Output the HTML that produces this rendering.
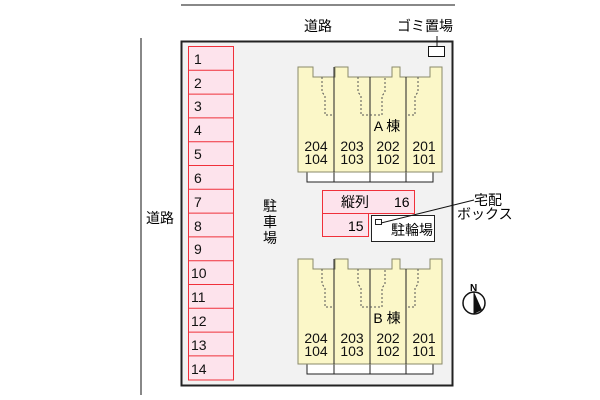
<!DOCTYPE html>
<html><head><meta charset="utf-8"><style>
html,body{margin:0;padding:0;background:#fff;}
svg{display:block;font-family:"Liberation Sans","Noto Sans CJK JP",sans-serif;}
</style></head><body>
<svg width="600" height="400" viewBox="0 0 600 400" xmlns="http://www.w3.org/2000/svg">
<defs>
<g id="bld">
  <rect x="307" y="172" width="126" height="10" fill="#fff" stroke="#222" stroke-width="1"/>
  <line x1="334" y1="172" x2="334" y2="182" stroke="#222"/>
  <line x1="370" y1="172" x2="370" y2="182" stroke="#222"/>
  <line x1="406" y1="172" x2="406" y2="182" stroke="#222"/>
  <polygon points="298,67 313,67 313,77 335,77 335,67 348,67 348,77 392,77 392,67 400,67 400,77 430,77 430,67 442,67 442,172 298,172" fill="#fbf7c8" stroke="#8a8a6a" stroke-width="1"/>
  <line x1="334" y1="67" x2="334" y2="172" stroke="#222"/>
  <line x1="370" y1="77" x2="370" y2="172" stroke="#222"/>
  <line x1="406" y1="77" x2="406" y2="172" stroke="#222"/>
  <g stroke="#555" stroke-dasharray="2,2" fill="none">
    <polyline points="322,77 322,92 325,96 325,115 334,115"/>
    <polyline points="358,77 358,92 361,96 361,115 370,115 382,115 382,96 385,92 385,77"/>
    <polyline points="418,77 418,92 415,96 415,115 406,115"/>
  </g>
  <g font-size="14" fill="#111" text-anchor="middle">
    <text x="316" y="151">204</text><text x="316" y="164">104</text>
    <text x="352" y="151">203</text><text x="352" y="164">103</text>
    <text x="388" y="151">202</text><text x="388" y="164">102</text>
    <text x="424" y="151">201</text><text x="424" y="164">101</text>
  </g>
</g>
</defs>
<line x1="181" y1="5" x2="455" y2="5" stroke="#111"/>
<line x1="141" y1="38" x2="141" y2="395" stroke="#111"/>
<text x="318" y="31" font-size="14" text-anchor="middle">道路</text>
<text x="160" y="223" font-size="14" text-anchor="middle">道路</text>
<rect x="181.5" y="41.5" width="271" height="344" fill="#f2f2f2" stroke="#222" stroke-width="2"/>
<g fill="#fde3ec" stroke="#f0303a" stroke-width="1">
  <rect x="188.5" y="46.5" width="45" height="333.5"/>
</g>
<g stroke="#f0303a">
  <line x1="188" y1="70.3" x2="234" y2="70.3"/><line x1="188" y1="94.1" x2="234" y2="94.1"/>
  <line x1="188" y1="117.9" x2="234" y2="117.9"/><line x1="188" y1="141.7" x2="234" y2="141.7"/>
  <line x1="188" y1="165.5" x2="234" y2="165.5"/><line x1="188" y1="189.3" x2="234" y2="189.3"/>
  <line x1="188" y1="213.1" x2="234" y2="213.1"/><line x1="188" y1="236.9" x2="234" y2="236.9"/>
  <line x1="188" y1="260.7" x2="234" y2="260.7"/><line x1="188" y1="284.5" x2="234" y2="284.5"/>
  <line x1="188" y1="308.3" x2="234" y2="308.3"/><line x1="188" y1="332.1" x2="234" y2="332.1"/>
  <line x1="188" y1="355.9" x2="234" y2="355.9"/>
</g>
<g font-size="14" fill="#111">
  <text x="194" y="64">1</text><text x="194" y="88">2</text><text x="194" y="111">3</text>
  <text x="194" y="135">4</text><text x="194" y="159">5</text><text x="194" y="183">6</text>
  <text x="194" y="207">7</text><text x="194" y="231">8</text><text x="194" y="254">9</text>
  <text x="191" y="278">10</text><text x="191" y="302">11</text><text x="191" y="326">12</text>
  <text x="191" y="350">13</text><text x="191" y="374">14</text>
</g>
<g font-size="14" text-anchor="middle"><text x="270" y="211">駐</text><text x="270" y="227">車</text><text x="270" y="243">場</text></g>
<text x="425" y="31" font-size="14" text-anchor="middle">ゴミ置場</text>
<line x1="437" y1="36" x2="437" y2="46" stroke="#111"/>
<rect x="428.5" y="46.5" width="16" height="10" fill="#fff" stroke="#111"/>
<use href="#bld"/>
<text x="387" y="131" font-size="14" text-anchor="middle">A 棟</text>
<use href="#bld" transform="translate(0,192)"/>
<text x="387" y="323" font-size="14" text-anchor="middle">B 棟</text>
<rect x="322.5" y="190.5" width="92" height="23" fill="#fde3ec" stroke="#f0303a"/>
<rect x="322.5" y="213.5" width="46" height="23" fill="#fde3ec" stroke="#f0303a"/>
<text x="341" y="207" font-size="14">縦列</text>
<text x="394" y="207" font-size="14">16</text>
<text x="348" y="231" font-size="14">15</text>
<rect x="371.5" y="215.5" width="63" height="26" fill="#fff" stroke="#222"/>
<rect x="375.5" y="219.5" width="6" height="5" fill="#fff" stroke="#222"/>
<text x="391" y="235" font-size="14">駐輪場</text>
<line x1="381" y1="223" x2="474" y2="200" stroke="#111"/>
<text x="474" y="205" font-size="14">宅配</text>
<text x="457" y="219" font-size="14">ボックス</text>
<circle cx="474" cy="303" r="11" fill="#fff" stroke="#111" stroke-width="1.5"/>
<polygon points="474,292 474,314 482,310" fill="#111"/>
<line x1="474" y1="292" x2="474" y2="314" stroke="#111"/>
<text x="470" y="291" font-size="10" font-weight="bold">N</text>
</svg>
</body></html>
